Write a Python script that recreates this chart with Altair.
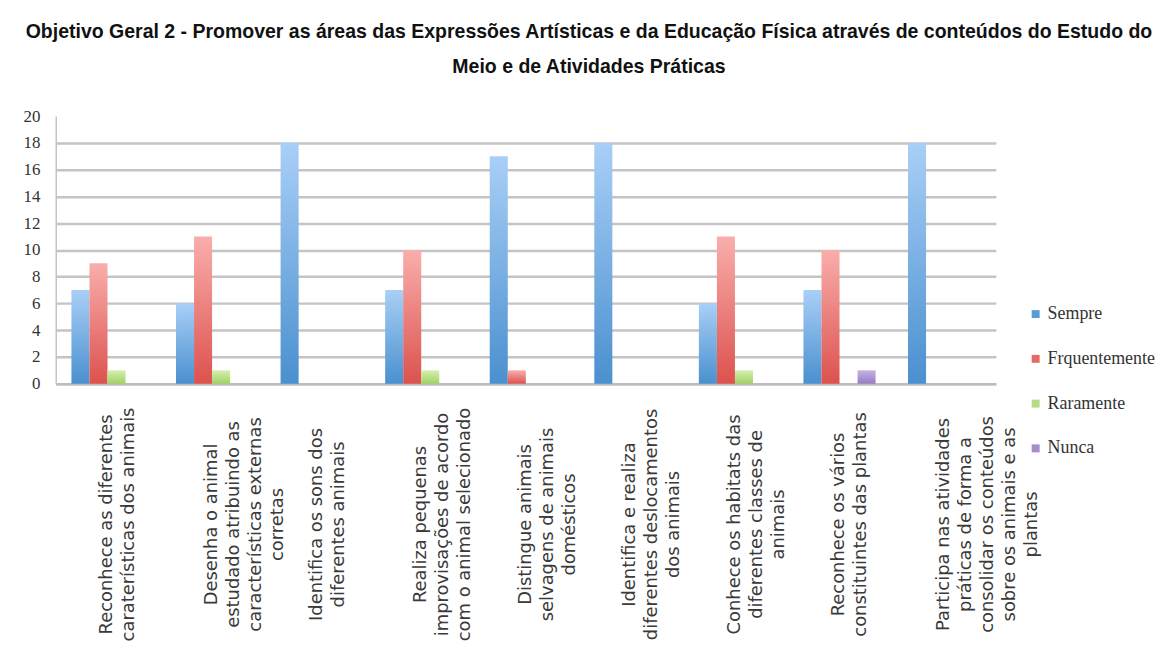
import altair as alt
import pandas as pd

categories = [
    "Reconhece as diferentes|caraterísticas dos animais",
    "Desenha o animal|estudado atribuindo as|características externas|corretas",
    "Identifica os sons dos|diferentes animais",
    "Realiza pequenas|improvisações de acordo|com o animal selecionado",
    "Distingue animais|selvagens de animais|domésticos",
    "Identifica e realiza|diferentes deslocamentos|dos animais",
    "Conhece os habitats das|diferentes classes de|animais",
    "Reconhece os vários|constituintes das plantas",
    "Participa nas atividades|práticas de forma a|consolidar os conteúdos|sobre os animais e as|plantas",
]
series = ["Sempre", "Frquentemente", "Raramente", "Nunca"]
sempre = [7, 6, 18, 7, 17, 18, 6, 7, 18]
frequentemente = [9, 11, 0, 10, 1, 0, 11, 10, 0]
raramente = [1, 1, 0, 1, 0, 0, 1, 0, 0]
nunca = [0, 0, 0, 0, 0, 0, 0, 1, 0]
y_ticks = [0, 2, 4, 6, 8, 10, 12, 14, 16, 18, 20]

solid = ["#5b9bd5", "#e46c68", "#b5dc84", "#a58ccb"]
tops = ["#a9cff7", "#f9aeac", "#d3efb0", "#c4b3e3"]
bottoms = ["#4a90cf", "#dc524e", "#a2d264", "#987cc5"]

rows = []
for s, vals in zip(series, [sempre, frequentemente, raramente, nunca]):
    for c, v in zip(categories, vals):
        rows.append({"cat": c, "series": s, "value": v})
df = pd.DataFrame(rows)

SERIF = "'Liberation Serif', 'DejaVu Serif', serif"


def grad(top, bottom):
    return {
        "gradient": "linear", "x1": 0, "y1": 0, "x2": 0, "y2": 1,
        "stops": [{"offset": 0, "color": top}, {"offset": 1, "color": bottom}],
    }


x_enc = alt.X(
    "cat:N", sort=categories, title=None,
    scale=alt.Scale(paddingInner=0.31, paddingOuter=0.15),
    axis=alt.Axis(
        labelExpr="split(datum.label, '|')",
        labelAngle=270, labelAlign="center", labelBaseline="middle",
        labelPadding=141, labelLimit=400, labelFont="DejaVu Sans", labelFontSize=18,
        labelLineHeight=22, labelColor="#3a3a3a", labelOverlap=False,
        ticks=False, domainColor="#bdbdbd", domainWidth=2.5,
    ),
)
xoff_enc = alt.XOffset("series:N", sort=series, scale=alt.Scale(domain=series, paddingInner=0, paddingOuter=0))
y_enc = alt.Y(
    "value:Q", title=None,
    scale=alt.Scale(domain=[0, 20], nice=False),
    axis=alt.Axis(
        values=y_ticks, ticks=False, labelPadding=16,
        labelFont=SERIF, labelFontSize=17, labelColor="#333333",
        gridColor="#c4c4c4", gridWidth=2.5,
        gridOpacity={"condition": {"test": "datum.value == 20", "value": 0}, "value": 1},
        domainColor="#c4c4c4", domainWidth=1.5,
    ),
)

fill_cond = {
    "condition": [
        {"test": f"datum.series == '{s}'", "value": grad(t, b)}
        for s, t, b in zip(series[:3], tops[:3], bottoms[:3])
    ],
    "value": grad(tops[3], bottoms[3]),
}

bars = alt.Chart(df).mark_bar(strokeWidth=0).encode(
    x=x_enc, xOffset=xoff_enc, y=y_enc, color=fill_cond
)

legend_layer = alt.Chart(df).mark_square(opacity=0, size=1).encode(
    x=x_enc, xOffset=xoff_enc, y=y_enc,
    color=alt.Color(
        "series:N", sort=series,
        scale=alt.Scale(domain=series, range=solid),
        legend=alt.Legend(
            title=None, orient="none", legendX=976, legendY=190,
            symbolType="square", symbolSize=64, symbolOpacity=1, symbolStrokeWidth=0,
            labelFont=SERIF, labelFontSize=18, labelColor="#333333",
            rowPadding=27, labelOffset=3,
        ),
    ),
)

chart = alt.layer(bars, legend_layer).properties(
    width=945, height=269,
    padding={"left": 14, "top": 12, "right": 5, "bottom": 5},
    title=alt.TitleParams(
        ["Objetivo Geral 2 - Promover as áreas das Expressões Artísticas  e da Educação Física através de conteúdos do Estudo do",
         "Meio e de Atividades Práticas"],
        font="'Liberation Sans Narrow', 'Arial Narrow', 'Liberation Sans', Arial, sans-serif",
        fontSize=19.6, fontWeight="bold",
        anchor="middle", frame="bounds", lineHeight=35, offset=30, color="#111111",
    ),
).configure_view(stroke=None)

chart.save("out.html", embed_options={"renderer": "svg", "actions": False})
